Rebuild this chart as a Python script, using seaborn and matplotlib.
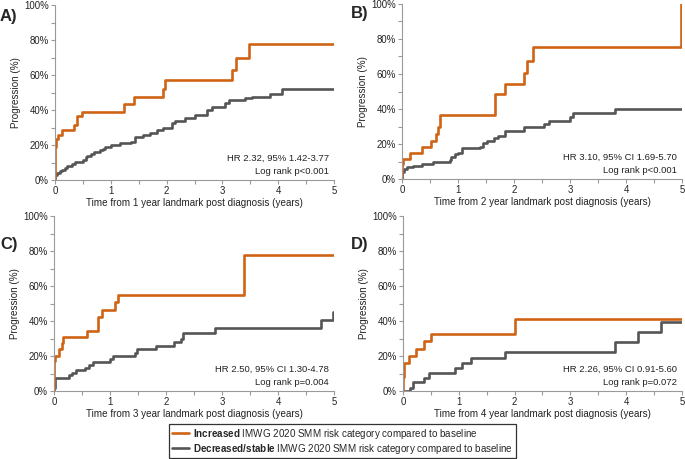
import matplotlib
matplotlib.use("Agg")
import matplotlib.pyplot as plt
from matplotlib.lines import Line2D
from matplotlib.ticker import MultipleLocator, PercentFormatter
import pandas as pd
import seaborn as sns

# (time in years, cumulative progression in %)
a_inc_t = [0, 0, 0.003, 0.01, 0.05, 0.13, 0.34, 0.40, 0.49, 1.23, 1.42, 1.93, 1.97, 3.17, 3.24, 3.47, 5.0]
a_inc_p = [0, 15, 19, 23.5, 26, 28.5, 31.5, 36.5, 39, 43.5, 47.5, 52, 57, 63, 69.5, 77.5, 77.5]
a_dec_t = [0, 0, 0.04, 0.09, 0.13, 0.18, 0.22, 0.30, 0.36, 0.51, 0.55, 0.58, 0.64, 0.69, 0.81, 0.86, 0.90,
           1.01, 1.16, 1.37, 1.43, 1.58, 1.70, 1.82, 1.94, 2.09, 2.15, 2.33, 2.51, 2.72, 2.81, 3.05, 3.12,
           3.40, 3.53, 3.85, 4.07, 5.0]
a_dec_p = [0, 3, 4, 5, 6, 7, 8, 9, 10.5, 11.4, 13, 14, 15, 15.8, 17, 18, 19,
           20, 21.3, 22, 24.7, 25.7, 27, 28.5, 30, 32.4, 34, 35.4, 37, 40, 41.6, 43.8, 45.7,
           46.7, 47.6, 49, 52, 52]

b_inc_t = [0, 0, 0.02, 0.14, 0.35, 0.52, 0.61, 0.64, 0.67, 1.66, 1.84, 2.18, 2.23, 2.33, 4.98, 5.0]
b_inc_p = [0, 8.5, 11.5, 15, 18.5, 22, 25.7, 29.5, 36.8, 48.5, 54.3, 60.8, 67.6, 75.5, 100, 100]
b_dec_t = [0, 0, 0.03, 0.08, 0.2, 0.35, 0.55, 0.85, 0.88, 0.94, 1.0, 1.07, 1.39, 1.45, 1.51, 1.65,
           1.72, 1.83, 2.18, 2.53, 2.62, 3.0, 3.05, 3.8, 5.0]
b_dec_p = [0, 4, 6, 7, 7.6, 8.6, 9.5, 10.9, 12.8, 14.1, 15, 17.5, 18.5, 20.8, 21.9, 23.6,
           24.8, 27.4, 29.5, 31.4, 33.3, 35.6, 37.5, 39.8, 39.8]

c_inc_t = [0, 0, 0.02, 0.09, 0.14, 0.16, 0.59, 0.79, 0.85, 1.09, 1.15, 3.40, 5.0]
c_inc_p = [0, 17, 20, 23.8, 27.2, 30.7, 34.5, 42.3, 46.3, 51, 54.9, 77.5, 77.5]
c_dec_t = [0, 0, 0.02, 0.27, 0.32, 0.39, 0.55, 0.63, 0.70, 1.0, 1.06, 1.45, 1.48, 1.83, 2.14, 2.27,
           2.30, 2.88, 4.77, 4.99, 5.0]
c_dec_p = [0, 1.5, 7.2, 9.1, 10.5, 12, 13.3, 14.9, 16.4, 18.1, 20, 21.5, 23.8, 25.7, 28.2, 29.7,
           33.3, 35.8, 40.6, 45.3, 45.3]

d_inc_t = [0, 0, 0.01, 0.1, 0.24, 0.38, 0.51, 2.01, 5.0]
d_inc_p = [0, 8, 16, 20, 24, 28.6, 32.6, 41.3, 41.3]
d_dec_t = [0, 0.12, 0.18, 0.38, 0.47, 0.94, 1.06, 1.21, 1.82, 3.80, 4.21, 4.62, 5.0]
d_dec_p = [0, 2, 5, 7.6, 10.3, 13, 16, 19, 22.5, 28, 34, 39.2, 39.2]

panel_letters = ["A)", "B)", "C)", "D)"]
landmark_years = [1, 2, 3, 4]
hr_text = ["HR 2.32, 95% 1.42-3.77", "HR 3.10, 95% CI 1.69-5.70",
           "HR 2.50, 95% CI 1.30-4.78", "HR 2.26, 95% CI 0.91-5.60"]
logrank_text = ["Log rank p<0.001", "Log rank p<0.001", "Log rank p=0.004", "Log rank p=0.072"]
groups = ["Increased", "Decreased/stable"]

sns.set_style("ticks")
plt.rcParams["font.family"] = ["Liberation Sans", "DejaVu Sans"]
plt.rcParams["mathtext.fontset"] = "custom"
plt.rcParams["mathtext.rm"] = "Liberation Sans"
plt.rcParams["mathtext.bf"] = "Liberation Sans:bold"

ORANGE = "#cf6414"
GREY = "#555555"
AXC = "#9a9a9a"

curves = [(a_inc_t, a_inc_p, a_dec_t, a_dec_p),
          (b_inc_t, b_inc_p, b_dec_t, b_dec_p),
          (c_inc_t, c_inc_p, c_dec_t, c_dec_p),
          (d_inc_t, d_inc_p, d_dec_t, d_dec_p)]

# axes rectangles in figure fractions (685 x 459 px)
rects = [[0.0803, 0.6078, 0.4073, 0.3813],
         [0.5869, 0.6100, 0.4088, 0.3813],
         [0.0788, 0.1481, 0.4088, 0.3813],
         [0.5883, 0.1481, 0.4073, 0.3813]]
letter_pos = [(0.0, 0.965), (0.512, 0.97), (0.0, 0.468), (0.512, 0.468)]

fig = plt.figure(figsize=(6.85, 4.59), dpi=100)

for i in range(4):
    it, ip, dt, dp = curves[i]
    df = pd.concat([
        pd.DataFrame({"time": it, "prog": ip, "group": groups[0]}),
        pd.DataFrame({"time": dt, "prog": dp, "group": groups[1]}),
    ], ignore_index=True)
    ax = fig.add_axes(rects[i])
    sns.lineplot(data=df, x="time", y="prog", hue="group", hue_order=groups[::-1],
                 palette={groups[0]: ORANGE, groups[1]: GREY},
                 estimator=None, sort=False, drawstyle="steps-post",
                 lw=1.9, legend=False, ax=ax)
    ax.set_xlim(0, 5)
    ax.set_ylim(0, 100)
    ax.xaxis.set_major_locator(MultipleLocator(1))
    ax.xaxis.set_minor_locator(MultipleLocator(0.5))
    ax.yaxis.set_major_locator(MultipleLocator(20))
    ax.yaxis.set_minor_locator(MultipleLocator(10))
    ax.yaxis.set_major_formatter(PercentFormatter(decimals=0))
    ax.tick_params(which="both", length=3, width=0.8, color=AXC, labelsize=6.9,
                   labelcolor="#222222", pad=1.5)
    for s in ["left", "bottom"]:
        ax.spines[s].set_color(AXC)
        ax.spines[s].set_linewidth(0.8)
    sns.despine(ax=ax)
    ax.set_xlabel(f"Time from {landmark_years[i]} year landmark post diagnosis (years)",
                  fontsize=7.1, labelpad=1.5, color="#222222")
    ax.set_ylabel("Progression (%)", fontsize=7.1, labelpad=2, color="#222222")
    ax.text(0.982, 0.126, hr_text[i], transform=ax.transAxes, ha="right", va="center",
            fontsize=6.8, color="#222222")
    ax.text(0.982, 0.046, logrank_text[i], transform=ax.transAxes, ha="right", va="center",
            fontsize=6.8, color="#222222")
    fig.text(letter_pos[i][0], letter_pos[i][1], panel_letters[i], fontsize=12,
             fontweight="bold", ha="left", va="center")

handles = [Line2D([], [], color=ORANGE, lw=1.9), Line2D([], [], color=GREY, lw=1.9)]
labels = [r"$\bf{Increased}$ IMWG 2020 SMM risk category compared to baseline",
          r"$\bf{Decreased/stable}$ IMWG 2020 SMM risk category compared to baseline"]
leg = fig.legend(handles, labels, loc="lower center", bbox_to_anchor=(0.5, 0.0),
                 frameon=True, fancybox=False, edgecolor="black", fontsize=7.1,
                 handlelength=1.8, handletextpad=0.4, borderpad=0.25, labelspacing=0.1,
                 borderaxespad=0.1)
leg.get_frame().set_linewidth(0.9)

fig.savefig("out.png", dpi=100)
